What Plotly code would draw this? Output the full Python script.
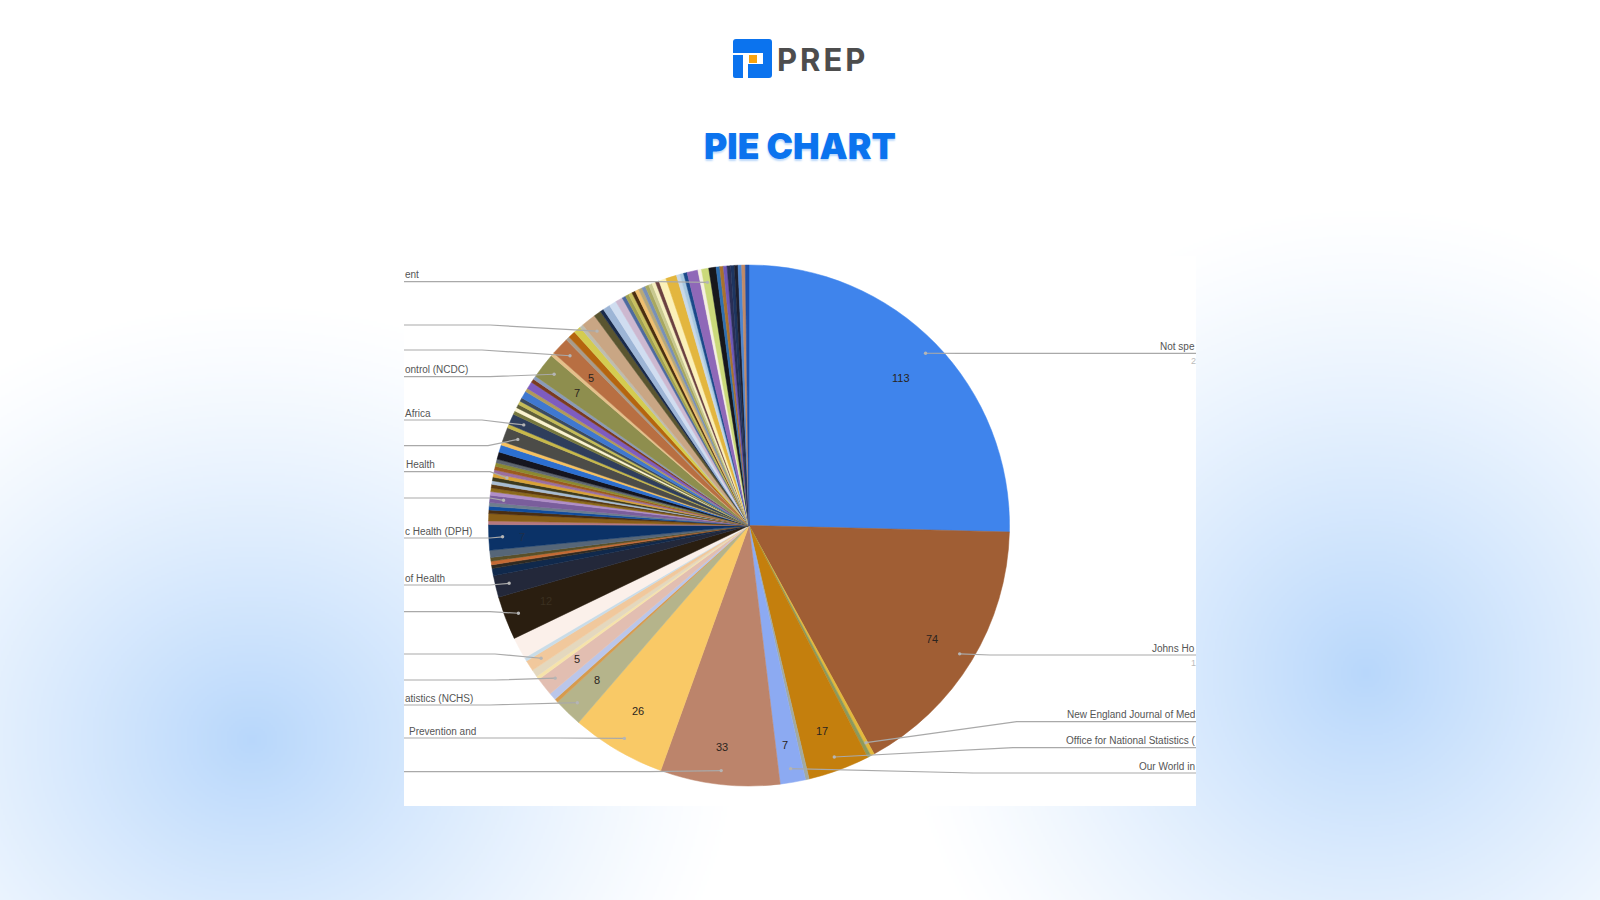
import base64, struct, zlib
import numpy as np
import plotly.graph_objects as go

W, H = 1600, 900
CX, CY, R = 749.0, 525.5, 260.5

slice_values = [113, 74, 1, 1, 17, 1, 7, 33, 26, 8, 1, 2, 5, 1, 2, 3, 1, 6, 12,
                6, 2, 1, 1, 1, 2, 7, 1, 2, 1, 1, 1, 2, 1, 1, 1, 1, 1, 1, 1, 1, 1, 1, 2, 2, 1,
                4, 1, 3, 1, 1, 1, 1, 1, 2, 1, 2, 1, 1, 7, 1, 5, 1, 2, 2, 1, 4, 2, 1, 2, 2, 2,
                1, 1, 1, 1, 1, 1, 1, 1, 1, 1, 1, 2, 3, 1, 1, 1, 3, 1, 2, 2, 1, 1, 1, 1, 1, 1, 1, 1, 1]
slice_colors = ["#3F84EC", "#A05E34", "#E3B93C", "#8C9A5E", "#C47F0D", "#A3AAA0", "#8CAAF2", "#BC846B",
                "#F9C966", "#B5B48B", "#D69B4E", "#BAC6EA", "#E2BEB1", "#F6E3AA", "#E4D8BE", "#F1C89C",
                "#C9DCE8", "#FBF0EA", "#2A1E10", "#23283A", "#10294C", "#2F2A22", "#C46A34", "#5A5028",
                "#566678", "#0B3267", "#B5787F", "#8A5F18", "#4A2E12", "#0F4C9E", "#6E7E8E", "#7A5E9C",
                "#B08EC8", "#8C6A1C", "#5A3A10", "#A8BDD2", "#3C3A1E", "#D9A338", "#9B6FA0", "#9C5A20",
                "#8C8A30", "#5E6670", "#15151F", "#2C6FD0", "#F5C060", "#4C4C48", "#C7B84A", "#2F3E5C",
                "#77783E", "#FBF3D0", "#5F5F3A", "#C4BC58", "#3B4A60", "#3F78D0", "#B09A5A", "#7E5CC0",
                "#7A3B1F", "#8A9AB8", "#8E8E4E", "#E5C08A", "#B86F42", "#A89C8C", "#B5650F", "#D4CC50",
                "#BDBDB0", "#C9A684", "#5A5530", "#1A2A4A", "#9DB5D6", "#D0DDF0", "#CDB8D0", "#4E6AA0",
                "#A0A050", "#C8C060", "#4A2E10", "#F0C070", "#B8A878", "#7890B8", "#A8A860", "#C8C890",
                "#F5EFC0", "#6B4040", "#FBF0B8", "#E3B63E", "#C8D8E8", "#A8C8E0", "#1A4A8A", "#8F68B8",
                "#F5F0E0", "#CBD97A", "#17171C", "#2F6FB0", "#A9722C", "#6F58B8", "#2A2F55", "#1E3560",
                "#1E2030", "#4F86CF", "#C08A68", "#1F4FA8"]
slice_names = ["Not specified", "Johns Hopkins", "New England Journal of Medicine",
               "Other 3", "Office for National Statistics", "Other 5", "Our World in Data"] + \
              [f"Source {i}" for i in range(7, len(slice_values))]

# slice index on which each number sits
number_slices = [0, 1, 4, 6, 7, 8, 9, 12, 18, 25, 58, 60]

# leaders: slice index, line y, elbow x, label
left_leaders = [(89, 281.7, 660, "ent", 404), (65, 325, 490, "", 404), (60, 350, 482, "", 404),
                (58, 376.7, 490, "ontrol (NCDC)", 404), (47, 420, 482, "Africa", 404), (45, 445.7, 488, "", 404),
                (37, 471.7, 490, "Health", 405), (31, 498, 490, "", 404), (25, 538, 490, "c Health (DPH)", 404),
                (19, 585, 490, "of Health", 404), (18, 611.7, 490, "", 404), (15, 654, 495, "", 404),
                (12, 680, 495, "", 404), (9, 705, 490, "atistics (NCHS)", 404), (8, 738, 560, "Prevention and", 408),
                (7, 771.7, 650, "", 404)]
right_leaders = [(0, 353.3, 960, "Not spe"), (1, 655, 990, "Johns Ho"), (2, 721.7, 1016.7, "New England Journal of Med"),
                 (4, 747.7, 1013, "Office for National Statistics ("), (6, 773, 973, "Our World in")]
clipped_digits = [("2", 360.5), ("1", 663)]

# small shifts of the number labels in pixels, keyed by slice index
number_shift = {0: (-3, 3), 1: (-2, 1), 4: (-2, 3), 6: (0, 6), 7: (-3, 7), 8: (-2, -1), 9: (-2, -1),
                12: (-2, 0), 18: (-1, -1), 25: (-11, 2), 58: (-1, 0), 60: (-1, 1)}
number_color = {18: "#3A3020", 25: "#1F2F4A"}


def px(x):
    return x / W


def py(y):
    return 1 - y / H


def pt(x, y):
    return f"{px(x):.5f},{py(y):.5f}"


def slice_pos(i, frac):
    total = sum(slice_values)
    mid = (sum(slice_values[:i]) + slice_values[i] / 2) / total * 2 * np.pi
    return CX + frac * R * np.sin(mid), CY - frac * R * np.cos(mid)


def background_png():
    w, h = 800, 450
    xs, ys = np.meshgrid((np.arange(w) + .5) * 2, (np.arange(h) + .5) * 2)
    def glow(cx, cy, rx, ry):
        d = np.sqrt(((xs - cx) / rx) ** 2 + ((ys - cy) / ry) ** 2)
        return np.clip(1 - d, 0, 1) ** 1.25
    a = np.maximum(glow(252, 740, 490, 440), glow(1366, 673, 470, 470))
    img = np.zeros((h, w, 3), dtype=np.uint8)
    for k, delta in enumerate((71, 40, 4)):
        img[..., k] = np.round(255 - delta * a)
    raw = b"".join(b"\x00" + img[r].tobytes() for r in range(h))
    def chunk(t, d):
        return struct.pack(">I", len(d)) + t + d + struct.pack(">I", zlib.crc32(t + d) & 0xffffffff)
    png = b"\x89PNG\r\n\x1a\n" + chunk(b"IHDR", struct.pack(">IIBBBBB", w, h, 8, 2, 0, 0, 0)) + \
        chunk(b"IDAT", zlib.compress(raw, 9)) + chunk(b"IEND", b"")
    return "data:image/png;base64," + base64.b64encode(png).decode()


fig = go.Figure(go.Pie(
    labels=slice_names, values=slice_values, sort=False, direction="clockwise", rotation=0,
    marker=dict(colors=slice_colors, line=dict(width=0.5, color=slice_colors)),
    textinfo="none", hoverinfo="label+value", showlegend=False,
    domain=dict(x=[px(CX - R), px(CX + R)], y=[py(CY + R), py(CY - R)]),
))

shapes = [dict(type="rect", xref="paper", yref="paper", x0=px(404), x1=px(1196), y0=py(806), y1=py(256),
               fillcolor="white", line_width=0, layer="below")]
# logo
BLUE = "#0B73EE"
logo_top = ("M" + pt(733, 42) + " Q" + pt(733, 39) + " " + pt(736, 39) + " L" + pt(769, 39) + " Q" + pt(772, 39) + " "
            + pt(772, 42) + " L" + pt(772, 75) + " Q" + pt(772, 78) + " " + pt(769, 78) + " L" + pt(748, 78) + " L"
            + pt(748, 64) + " L" + pt(763, 64) + " L" + pt(763, 53) + " L" + pt(733, 53) + " Z")
shapes.append(dict(type="path", xref="paper", yref="paper", fillcolor=BLUE, line_width=0, path=logo_top))
logo_left = ("M" + pt(733, 55) + " L" + pt(743, 55) + " L" + pt(743, 78) + " L" + pt(735, 78) + " Q" + pt(733, 78) + " "
             + pt(733, 76) + " Z")
shapes.append(dict(type="path", xref="paper", yref="paper", fillcolor=BLUE, line_width=0, path=logo_left))
shapes.append(dict(type="rect", xref="paper", yref="paper", fillcolor="#F9A30D", line_width=0,
                   x0=px(749), x1=px(757), y0=py(63), y1=py(55)))

annotations = []


def text(x, y, s, size=10, color="#555555", anchor="left", **font):
    annotations.append(dict(xref="paper", yref="paper", x=px(x), y=py(y), text=s, showarrow=False,
                            xanchor=anchor, yanchor="middle", borderpad=0,
                            font=dict(family="Liberation Sans", size=size, color=color) | font))


def leader(edge, i, y, elbow):
    ax, ay = slice_pos(i, 0.947)
    shapes.append(dict(type="path", xref="paper", yref="paper", line=dict(color="#A9A9A9", width=1.2),
                       path="M" + pt(edge, y) + " L" + pt(elbow, y) + " L" + pt(ax, ay)))
    shapes.append(dict(type="circle", xref="paper", yref="paper", fillcolor="#B5B5B5", line_width=0,
                       x0=px(ax - 1.7), x1=px(ax + 1.7), y0=py(ay + 1.7), y1=py(ay - 1.7)))


for i, y, elbow, label, tx in left_leaders:
    leader(404, i, y, elbow)
    if label:
        text(tx, y - 7, label)
for i, y, elbow, label in right_leaders:
    leader(1196, i, y, elbow)
    text(1196, y - 7, label, anchor="right")
for s, y in clipped_digits:
    text(1197, y, s, size=9, color="#BBBBBB", anchor="right")

for i in number_slices:
    x, y = slice_pos(i, 0.83)
    dx, dy = number_shift[i]
    text(x + dx, y + dy, str(slice_values[i]), size=11, color=number_color.get(i, "#2A2420"), anchor="center")

annotations.append(dict(xref="paper", yref="paper", x=px(822), y=py(59), text="PREP", showarrow=False,
                        xanchor="center", yanchor="middle",
                        font=dict(family="Inter", size=31, color="#4D4D4D", weight=700)))
annotations.append(dict(xref="paper", yref="paper", x=px(800), y=py(146), text="PIE CHART", showarrow=False,
                        xanchor="center", yanchor="middle",
                        font=dict(family="Inter", size=35.5, color="#0B73EE", weight=900,
                                  shadow="0px 2px 2px #BBD8FA")))

fig.update_layout(
    width=W, height=H, margin=dict(l=0, r=0, t=0, b=0), paper_bgcolor="white",
    images=[dict(source=background_png(), xref="paper", yref="paper", x=0, y=1, sizex=1, sizey=1,
                 xanchor="left", yanchor="top", sizing="stretch", layer="below")],
    shapes=shapes, annotations=annotations,
)

fig.write_html("out.html", config={"displayModeBar": False},
               post_script="document.body.style.margin='0';document.documentElement.style.overflow='hidden';"
                           "document.querySelectorAll('.annotation-text').forEach(function(t){"
                           "if(t.textContent==='PREP'){t.style.letterSpacing='3px';}});")
